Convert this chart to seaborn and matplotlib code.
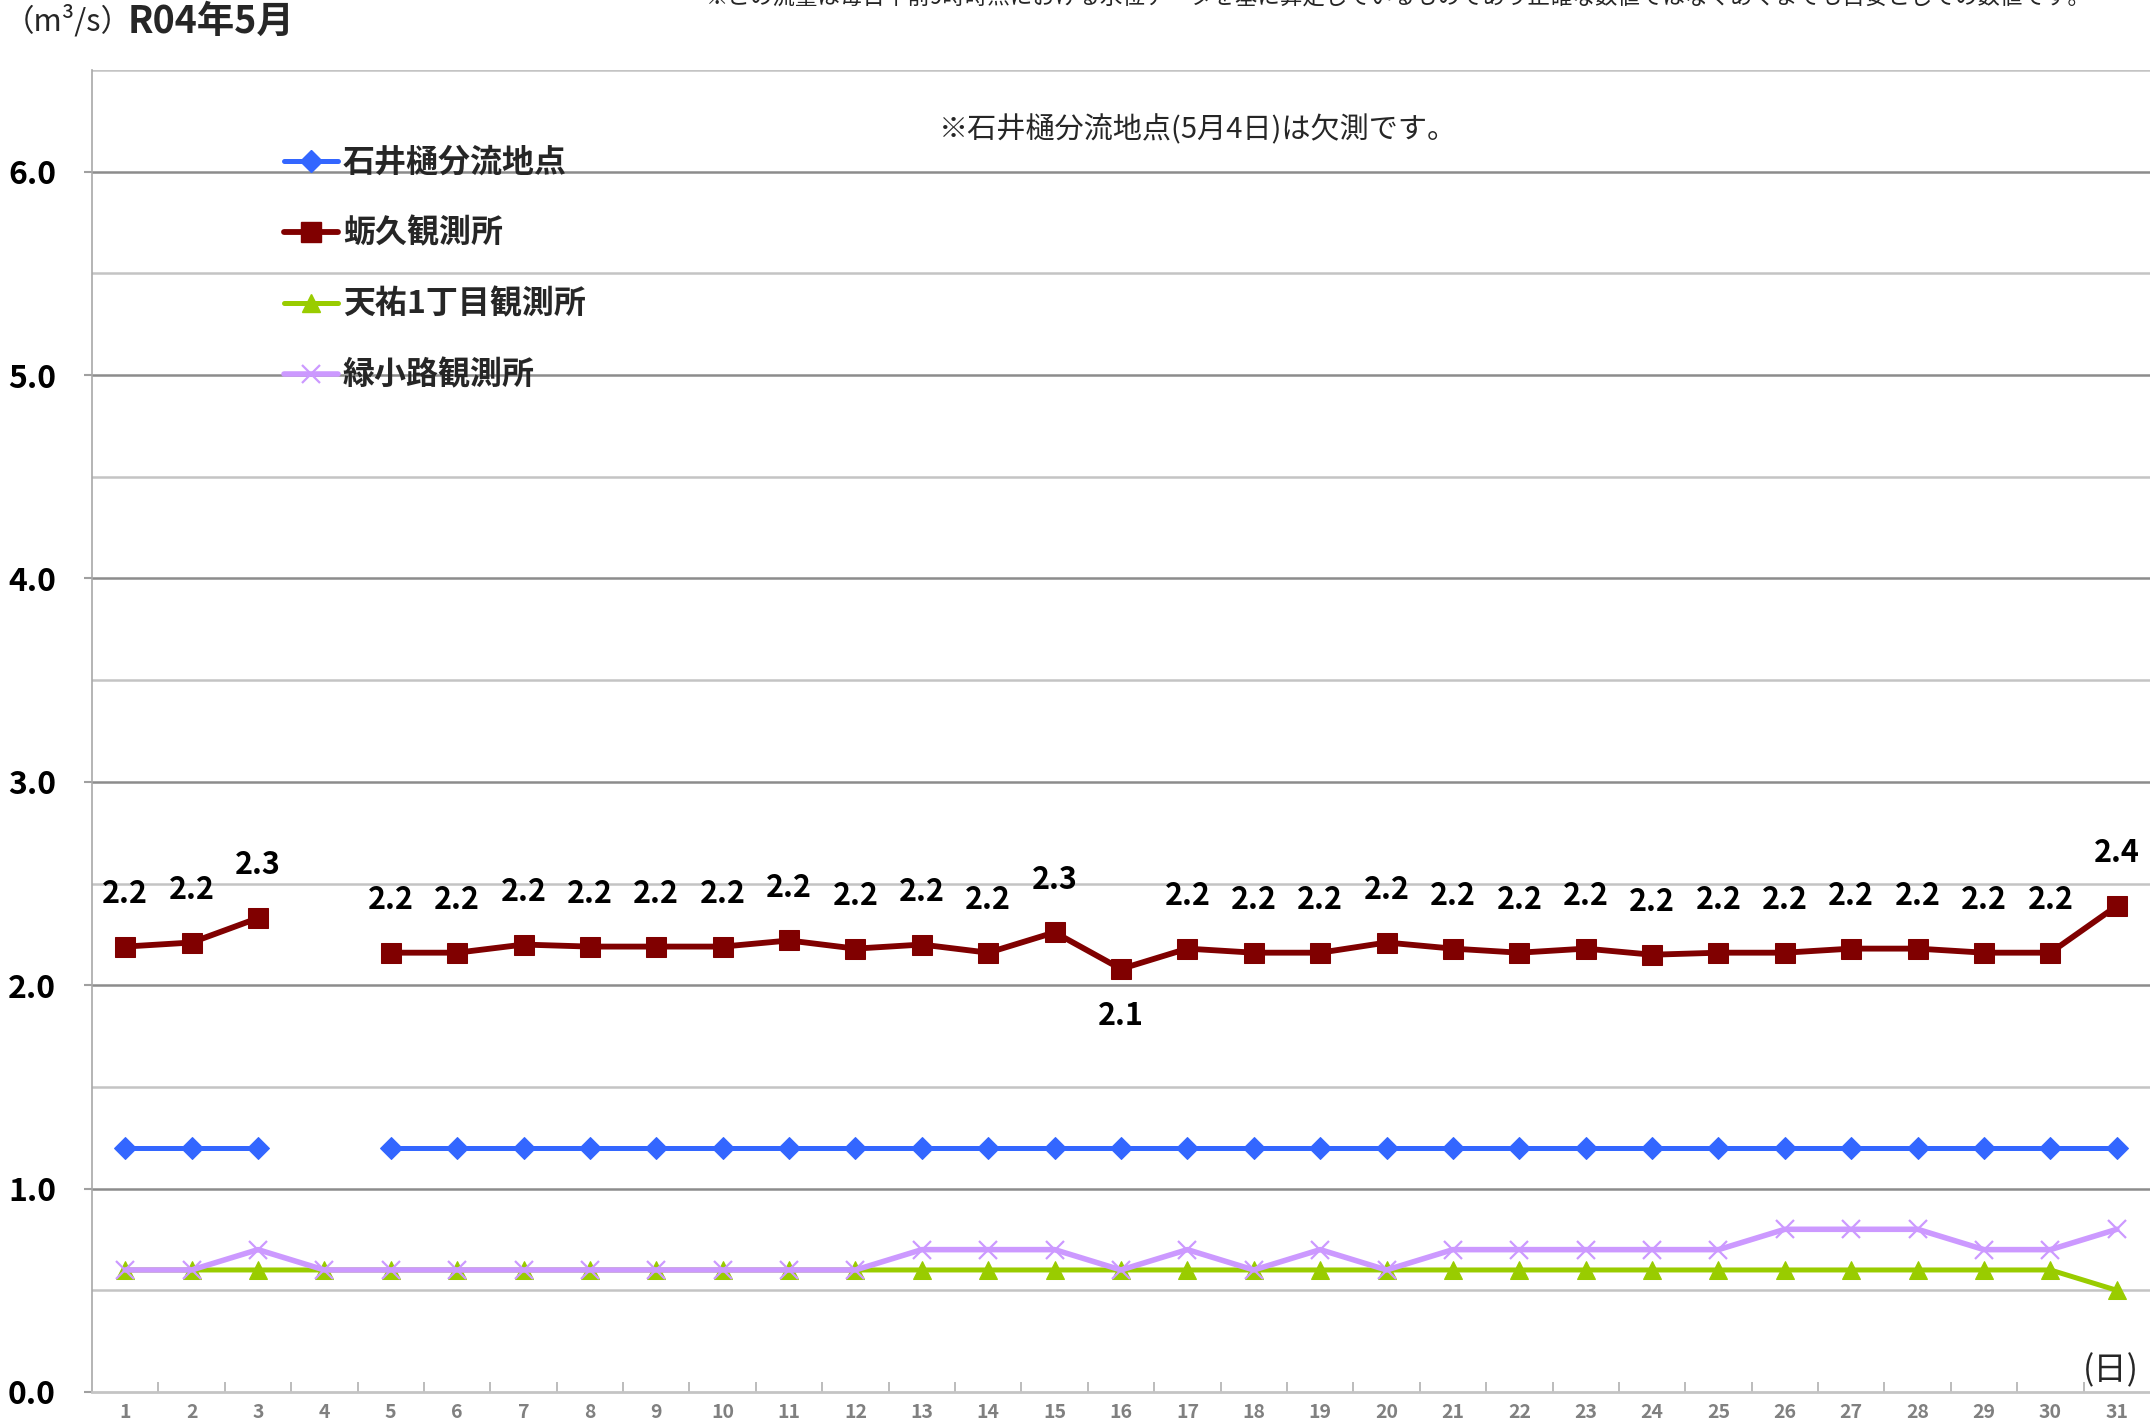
import numpy as np
import pandas as pd
import matplotlib
matplotlib.use("Agg")
import matplotlib.pyplot as plt
import seaborn as sns
from matplotlib.lines import Line2D

# daily flow (m3/s), May R04
days = list(range(1, 32))
ishii = [1.2, 1.2, 1.2, np.nan, 1.2, 1.2, 1.2, 1.2, 1.2, 1.2, 1.2, 1.2, 1.2, 1.2, 1.2, 1.2,
         1.2, 1.2, 1.2, 1.2, 1.2, 1.2, 1.2, 1.2, 1.2, 1.2, 1.2, 1.2, 1.2, 1.2, 1.2]
kaku = [2.19, 2.21, 2.33, np.nan, 2.16, 2.16, 2.20, 2.19, 2.19, 2.19, 2.22, 2.18, 2.20, 2.16, 2.26, 2.08,
        2.18, 2.16, 2.16, 2.21, 2.18, 2.16, 2.18, 2.15, 2.16, 2.16, 2.18, 2.18, 2.16, 2.16, 2.39]
tenyu = [0.6, 0.6, 0.6, 0.6, 0.6, 0.6, 0.6, 0.6, 0.6, 0.6, 0.6, 0.6, 0.6, 0.6, 0.6, 0.6,
         0.6, 0.6, 0.6, 0.6, 0.6, 0.6, 0.6, 0.6, 0.6, 0.6, 0.6, 0.6, 0.6, 0.6, 0.5]
midori = [0.6, 0.6, 0.7, 0.6, 0.6, 0.6, 0.6, 0.6, 0.6, 0.6, 0.6, 0.6, 0.7, 0.7, 0.7, 0.6,
          0.7, 0.6, 0.7, 0.6, 0.7, 0.7, 0.7, 0.7, 0.7, 0.8, 0.8, 0.8, 0.7, 0.7, 0.8]

names = ["石井樋分流地点", "蛎久観測所", "天祐1丁目観測所", "緑小路観測所"]
colors = ["#3366FF", "#800000", "#99CC00", "#CC99FF"]
y_ticks = [0.0, 1.0, 2.0, 3.0, 4.0, 5.0, 6.0]

W, H = 2150, 1426
sns.set_theme(style="white")
plt.rcParams['font.family'] = ['Noto Sans CJK JP', 'DejaVu Sans']


def round_half_up(v):
    return np.floor(v * 10 + 0.5 + 1e-9) / 10


df = pd.DataFrame({"day": days, names[0]: ishii, names[1]: kaku,
                   names[2]: tenyu, names[3]: midori})

fig = plt.figure(figsize=(W / 100, H / 100), dpi=100)
ax = fig.add_axes([92 / W, 1 - 1392 / H, 1 - 92 / W, (1392 - 70) / H])

styles = {
    names[0]: dict(marker="D", markersize=11, linewidth=3.6),
    names[1]: dict(marker="s", markersize=14, linewidth=4.2),
    names[2]: dict(marker="^", markersize=13, linewidth=3.6),
    names[3]: dict(marker="x", markersize=13, linewidth=4.0, markeredgewidth=1.6),
}

# gridlines: integer values darker, half values lighter
for v in np.arange(0.5, 6.51, 0.5):
    major = abs(v - round(v)) < 1e-6
    ax.axhline(v, color="#8c8c8c" if major else "#c4c4c4", lw=1.8, zorder=0)

# draw each series, broken at missing days
for name, col in zip(names, colors):
    s = df[["day", name]].copy()
    seg = s[name].isna().cumsum()
    ok = s[name].notna()
    for _, part in s[ok].groupby(seg[ok]):
        sns.lineplot(data=part, x="day", y=name, ax=ax, color=col,
                     markeredgecolor=col, markerfacecolor=col, **styles[name])

# value labels for 蛎久
for d, v in zip(days, kaku):
    if np.isnan(v):
        continue
    below = d == 16
    ax.annotate(f"{round_half_up(v):.1f}", (d, v), xytext=(0, -34 if below else 38),
                textcoords="offset points", ha="center", va="center",
                fontsize=22, fontweight="bold", color="black")

ax.set_xlim(0.5, 31.5)
ax.set_ylim(0, 6.5)
ax.set_xlabel("")
ax.set_ylabel("")

ax.set_xticks(days)
ax.set_xticklabels([str(d) for d in days], fontsize=14, fontweight="bold",
                   color="#808080")
ax.set_xticks([d + 0.5 for d in days[:-1]], minor=True)
ax.tick_params(axis="x", which="major", length=0, pad=8)
ax.tick_params(axis="x", which="minor", direction="in", length=7, width=1.2,
               color="#b0b0b0", bottom=True)

ax.set_yticks(y_ticks)
ax.set_yticklabels([f"{v:.1f}" for v in y_ticks], fontsize=23, fontweight="bold",
                   color="black")
ax.tick_params(axis="y", which="major", direction="out", length=6, width=1.5,
               color="#a0a0a0", pad=20, left=True)

for side in ["top", "right"]:
    ax.spines[side].set_visible(False)
ax.spines["left"].set_color("#a8a8a8")
ax.spines["left"].set_linewidth(1.2)
ax.spines["bottom"].set_color("#c4c4c4")
ax.spines["bottom"].set_linewidth(2)

# legend
handles = [Line2D([], [], color=c, markerfacecolor=c, markeredgecolor=c, **styles[n])
           for n, c in zip(names, colors)]
ax.legend(handles, names, loc="upper left", frameon=False,
          bbox_to_anchor=(271 / W, 1 - 134 / H), bbox_transform=fig.transFigure,
          prop=dict(size=23, weight="bold"), handlelength=1.7,
          handletextpad=0.15, labelspacing=1.22, borderaxespad=0)

# texts
fig.text(4 / W, 1 - 21 / H, "（m³/s）", fontsize=22, va="center", ha="left")
fig.text(128 / W, 1 - 21 / H, "R04年5月", fontsize=27, fontweight="bold",
         va="center", ha="left")
fig.text(706 / W, 1 - 9 / H,
         "※この流量は毎日午前9時時点における水位データを基に算定しているものであり正確な数値ではなくあくまでも目安としての数値です。",
         fontsize=16.2, va="bottom", ha="left")
fig.text(939 / W, 1 - 130 / H, "※石井樋分流地点(5月4日)は欠測です。", fontsize=21,
         va="center", ha="left")
fig.text(2139 / W, 1 - 1371 / H, "(日)", fontsize=24, va="center", ha="right")

fig.savefig("out.png", dpi=100)
